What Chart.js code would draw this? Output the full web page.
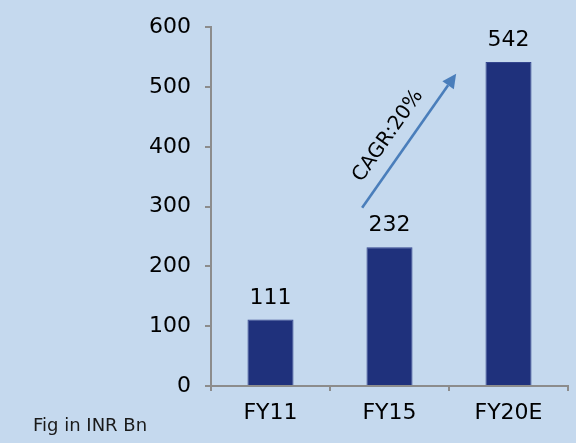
<!DOCTYPE html>
<html>
<head>
<meta charset="utf-8">
<script src="https://cdn.jsdelivr.net/npm/chart.js@4"></script>
<style>
html,body{margin:0;padding:0;background:#c5d9ee;}
#wrap{width:576px;height:443px;}
</style>
</head>
<body>
<div id="wrap"><canvas id="c" width="576" height="443"></canvas></div>
<script>
const categories = ['FY11', 'FY15', 'FY20E'];
const values = [111, 232, 542];
const yTicks = [0, 100, 200, 300, 400, 500, 600];
const noteText = 'Fig in INR Bn';
const cagrText = 'CAGR:20%';
// arrow endpoints in data units (category index, value)
const arrowFrom = {x: 0.77, y: 298};
const arrowTo = {x: 1.56, y: 522};

const FONT = 'DejaVu Sans';

const bgPlugin = {
  id: 'bg',
  beforeDraw(chart) {
    const ctx = chart.ctx;
    ctx.save();
    ctx.fillStyle = '#c5d9ee';
    ctx.fillRect(0, 0, chart.width, chart.height);
    ctx.restore();
  }
};

const labelsPlugin = {
  id: 'labels',
  afterDatasetsDraw(chart) {
    const ctx = chart.ctx;
    const meta = chart.getDatasetMeta(0);
    ctx.save();
    ctx.fillStyle = '#000';
    ctx.font = '22px "' + FONT + '"';
    ctx.textAlign = 'center';
    ctx.textBaseline = 'alphabetic';
    meta.data.forEach((bar, i) => {
      ctx.fillText(String(values[i]), bar.x, bar.y - 16);
    });
    // note
    ctx.textAlign = 'left';
    ctx.font = '18px "' + FONT + '"';
    ctx.fillStyle = '#1a1a1a';
    ctx.fillText(noteText, 33, 431);
    // arrow
    const xs = chart.scales.x, ys = chart.scales.y;
    const x1 = xs.getPixelForValue(arrowFrom.x), y1 = ys.getPixelForValue(arrowFrom.y);
    const x2 = xs.getPixelForValue(arrowTo.x), y2 = ys.getPixelForValue(arrowTo.y);
    const ang = Math.atan2(y2 - y1, x2 - x1);
    const headLen = 14, headW = 7;
    const bx = x2 - headLen * Math.cos(ang), by = y2 - headLen * Math.sin(ang);
    ctx.strokeStyle = '#4a7ebb';
    ctx.fillStyle = '#4a7ebb';
    ctx.lineWidth = 2.6;
    ctx.beginPath();
    ctx.moveTo(x1, y1);
    ctx.lineTo(bx, by);
    ctx.stroke();
    ctx.beginPath();
    ctx.moveTo(x2, y2);
    ctx.lineTo(bx + headW * Math.sin(ang), by - headW * Math.cos(ang));
    ctx.lineTo(bx - headW * Math.sin(ang), by + headW * Math.cos(ang));
    ctx.closePath();
    ctx.fill();
    // CAGR text
    const mx = (x1 + x2) / 2, my = (y1 + y2) / 2;
    const ux = Math.cos(ang), uy = Math.sin(ang);
    const px = uy, py = -ux; // perpendicular, up-left side
    const tx = mx - 8 * ux + 20 * px, ty = my - 8 * uy + 20 * py;
    ctx.translate(tx, ty);
    ctx.rotate(ang);
    ctx.fillStyle = '#000';
    ctx.font = '20px "' + FONT + '"';
    ctx.textAlign = 'center';
    ctx.textBaseline = 'middle';
    ctx.fillText(cagrText, 0, 0);
    ctx.restore();
  }
};

new Chart(document.getElementById('c'), {
  type: 'bar',
  data: {
    labels: categories,
    datasets: [{
      data: values,
      backgroundColor: '#1f317c',
      borderColor: '#34468f',
      borderWidth: 1,
      barPercentage: 0.387,
      categoryPercentage: 1.0
    }]
  },
  options: {
    responsive: false,
    animation: false,
    devicePixelRatio: 1,
    layout: { padding: { top: 27, right: 8, left: 0, bottom: 0 } },
    plugins: {
      legend: { display: false },
      tooltip: { enabled: false }
    },
    scales: {
      x: {
        grid: { display: true, drawOnChartArea: false, drawTicks: true, tickLength: 5, color: '#8c8c8c', lineWidth: 2, offset: true },
        border: { display: true, color: '#8c8c8c', width: 2 },
        ticks: { color: '#000', font: { family: FONT, size: 22 }, padding: 9, maxRotation: 0 },
        afterFit(scale) { scale.height = 57; }
      },
      y: {
        min: 0, max: 600,
        afterBuildTicks(scale) { scale.ticks = yTicks.map(v => ({ value: v })); },
        grid: { display: true, drawOnChartArea: false, drawTicks: true, tickLength: 6, color: '#8c8c8c', lineWidth: 2 },
        border: { display: true, color: '#8c8c8c', width: 2 },
        ticks: { color: '#000', font: { family: FONT, size: 22 }, padding: 14 },
        afterFit(scale) { scale.width = 211; }
      }
    }
  },
  plugins: [bgPlugin, labelsPlugin]
});
</script>
</body>
</html>
